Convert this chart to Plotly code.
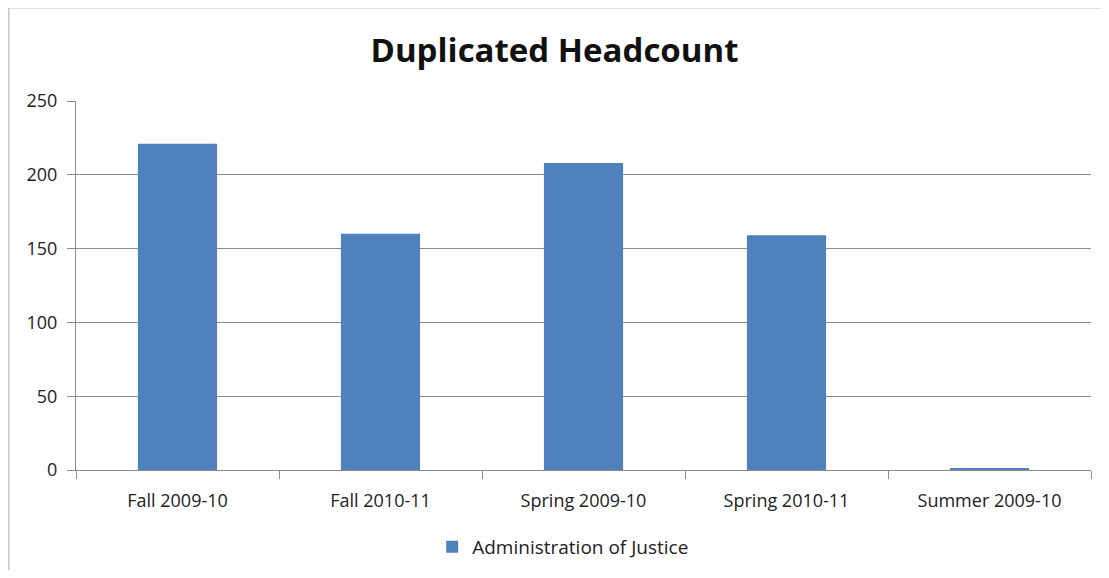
import plotly.graph_objects as go

categories = ["Fall 2009-10", "Fall 2010-11", "Spring 2009-10", "Spring 2010-11", "Summer 2009-10"]
values = [221, 160, 208, 159, 1]
series_name = "Administration of Justice"
y_ticks = [0, 50, 100, 150, 200, 250]

fig = go.Figure()
fig.add_trace(go.Bar(
    x=categories, y=values, name=series_name,
    marker=dict(color="#4F81BD", line=dict(width=0)),
    width=0.39,
))

border = "#C8C8C8"
fig.update_layout(
    width=1093, height=562,
    paper_bgcolor="white", plot_bgcolor="white",
    margin=dict(l=68, r=10, t=93, b=100),
    font=dict(family="Open Sans, Liberation Sans, sans-serif", size=18, color="#222222"),
    title=dict(text="Duplicated Headcount", x=0.5, xanchor="center", y=0.925, yanchor="middle",
               font=dict(size=33, color="#111111", family="Open Sans, sans-serif", weight="bold")),
    showlegend=True,
    legend=dict(orientation="h", x=0.48, xanchor="center", yref="container", y=0.041, yanchor="middle",
                font=dict(size=19)),
    shapes=[
        dict(type="line", xref="paper", yref="paper", x0=-0.0665, x1=-0.0665, y0=-0.271, y1=1.2535,
             line=dict(color=border, width=2)),
        dict(type="line", xref="paper", yref="paper", x0=-0.0665, x1=1.0099, y0=1.2535, y1=1.2535,
             line=dict(color=border, width=2)),
    ],
)
fig.update_yaxes(range=[0, 250], tickvals=y_ticks, showgrid=True, gridcolor="#8C8C8C", gridwidth=1,
                 showline=True, linecolor="#8C8C8C", linewidth=1, ticks="outside", ticklen=8,
                 tickcolor="#8C8C8C", zeroline=False, tickfont=dict(size=18), ticklabelstandoff=6)
fig.update_xaxes(showline=True, linecolor="#8C8C8C", linewidth=1, ticks="outside", ticklen=8,
                 tickcolor="#8C8C8C", tickson="boundaries", showgrid=False, tickfont=dict(size=18),
                 ticklabelstandoff=14)

fig.write_html("out.html")
